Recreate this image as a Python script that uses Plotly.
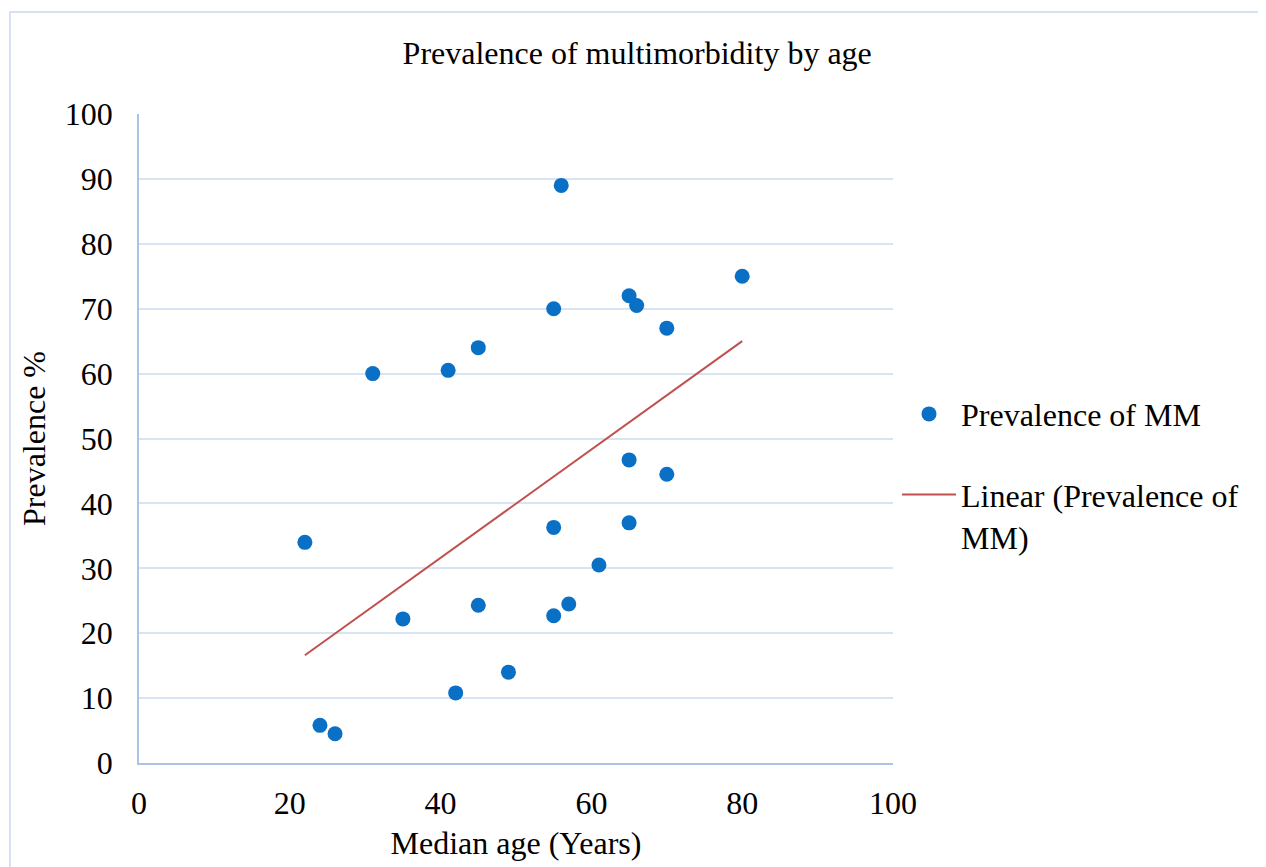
import plotly.graph_objects as go

median_age = [22, 24, 26, 31, 35, 41, 42, 45, 45, 49, 55, 55, 55, 56, 57, 61, 65, 66, 65, 65, 70, 70, 80]
prevalence = [34.0, 5.8, 4.5, 60.0, 22.2, 60.5, 10.8, 64.0, 24.3, 14.0, 70.0, 36.3, 22.7, 89.0, 24.5, 30.5, 72.0, 70.5, 46.7, 37.0, 67.0, 44.5, 75.0]

# Linear trendline (endpoints at min/max age)
trend_age = [22, 80]
trend_prev = [16.6, 65.0]

FONT = "Liberation Serif, Times New Roman, serif"

fig = go.Figure()
fig.add_trace(go.Scatter(
    x=median_age, y=prevalence, mode="markers", name="Prevalence of MM",
    legendgroup="a",
    marker=dict(color="#0a70c6", size=15, line=dict(width=0)),
))
fig.add_trace(go.Scatter(
    x=trend_age, y=trend_prev, mode="lines", name="Linear (Prevalence of<br>MM)",
    legendgroup="b",
    line=dict(color="#c0504d", width=2),
))

fig.update_layout(
    width=1266, height=867,
    margin=dict(l=131, r=381, t=106, b=112),
    paper_bgcolor="white", plot_bgcolor="white",
    font=dict(family=FONT, size=32, color="black"),
    title=dict(text="Prevalence of multimorbidity by age", x=0.497, xanchor="center",
               y=1 - 45 / 867, yanchor="middle", font=dict(size=32, family=FONT)),
    xaxis=dict(range=[0, 100], dtick=20, showgrid=False, zeroline=False,
               showline=True, linecolor="#a9c4e6", linewidth=1.5, ticks="",
               ticklabelstandoff=11,
               title=dict(text="Median age (Years)", standoff=11, font=dict(size=32)),
               tickfont=dict(size=32)),
    yaxis=dict(range=[0, 100], dtick=10, showgrid=True, gridcolor="#d9e4f2", gridwidth=1.5,
               zeroline=False, showline=True, linecolor="#a9c4e6", linewidth=1.5, ticks="",
               ticklabelstandoff=18,
               title=dict(text="Prevalence %", standoff=10, font=dict(size=32)),
               tickfont=dict(size=32)),
    legend=dict(x=1.0 + 4 / 754, xanchor="left", y=0.58, yanchor="top", font=dict(size=32),
                itemwidth=54, tracegroupgap=36, valign="top", bgcolor="rgba(0,0,0,0)"),
    showlegend=True,
)
fig.add_shape(type="rect", xref="paper", yref="paper",
              x0=(2 - 131) / 754, x1=(1252 - 131) / 754, y0=-0.3, y1=1 + (106 - 4) / 649,
              line=dict(color="#c9d9ee", width=1.5), fillcolor="rgba(0,0,0,0)", layer="below")

fig.write_html("out.html")
